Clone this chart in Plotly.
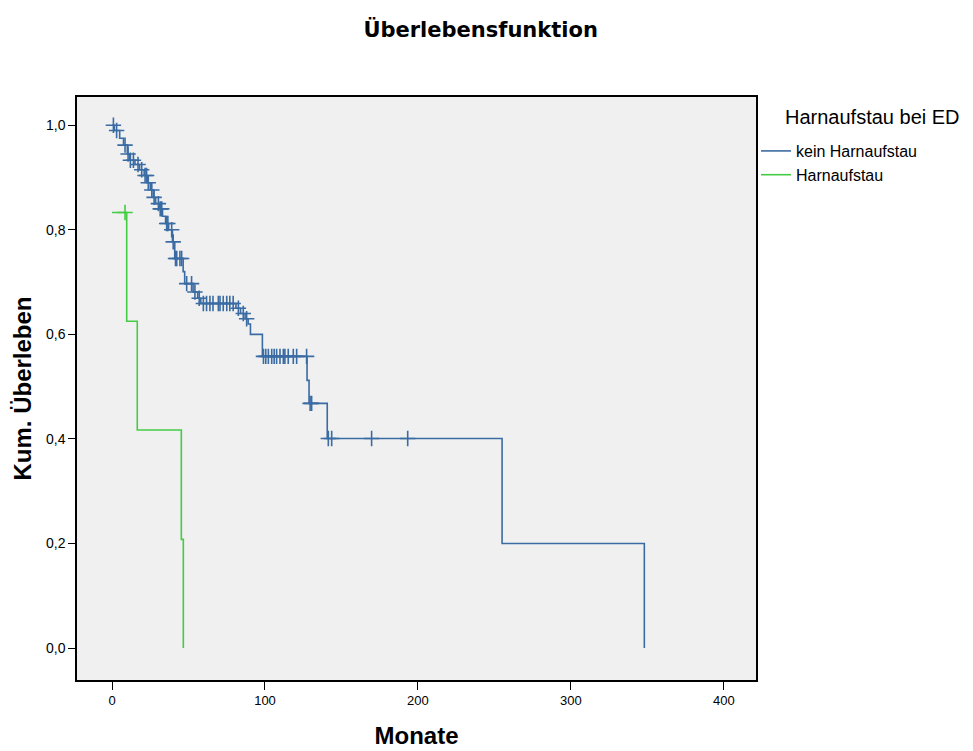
import numpy as np
import plotly.graph_objects as go

# ---- data ----
# kein Harnaufstau: event times (months) and survival after each event
blue_event_t = [0, 1.5, 5, 7.5, 10, 11.5, 15, 18, 21, 23, 25, 27, 28.5, 31, 33, 35, 37,
                39.5, 41, 46.5, 47.5, 53, 56, 58, 81, 84, 87, 89, 90.5, 98.3, 127.5,
                128.8, 140.7, 255, 348]
blue_event_s = [1.0, 0.99, 0.975, 0.962, 0.945, 0.933, 0.925, 0.915, 0.904, 0.89, 0.876,
                0.862, 0.85, 0.84, 0.826, 0.812, 0.80, 0.777, 0.745, 0.72, 0.697, 0.681,
                0.669, 0.659, 0.65, 0.64, 0.63, 0.62, 0.60, 0.558, 0.512, 0.468, 0.401,
                0.20, 0.0]
blue_censor_t = [0.9, 3, 8.5, 10.5, 12, 14, 17, 19.4, 21.6, 22.6, 23.7, 26, 27.5, 30.3,
                 31.5, 32.5, 35.7, 36.5, 39, 40, 41.5, 42.3, 44.4, 45.5, 48.8, 52, 54.2,
                 57, 59.7, 61.8, 64, 66, 69.5, 70.6, 72.7, 75, 77, 79.2, 82.6, 85.8, 88,
                 99, 100.5, 102.2, 104.4, 106, 107.6, 109.8, 112, 113, 115.2, 118.5,
                 120.7, 127.2, 129.5, 130.5, 141.4, 143.6, 169.7, 193.3]

# Harnaufstau
green_event_t = [0, 9.6, 16.5, 45.3, 46.6]
green_event_s = [0.833, 0.625, 0.417, 0.208, 0.0]
green_censor_t = [8.5]

x_ticks = [0, 100, 200, 300, 400]
y_ticks = [0.0, 0.2, 0.4, 0.6, 0.8, 1.0]

BLUE = "#3A6BA3"
GREEN = "#44CC44"


def surv_at(times, ev_t, ev_s):
    ev_t = np.asarray(ev_t)
    ev_s = np.asarray(ev_s)
    idx = np.searchsorted(ev_t, np.asarray(times), side="right") - 1
    return ev_s[np.clip(idx, 0, None)]


fig = go.Figure()

fig.add_trace(go.Scatter(x=blue_event_t, y=blue_event_s, mode="lines",
                         line=dict(color=BLUE, width=1.6, shape="hv"),
                         name="kein Harnaufstau", legendgroup="b"))
fig.add_trace(go.Scatter(x=blue_censor_t, y=surv_at(blue_censor_t, blue_event_t, blue_event_s),
                         mode="markers", showlegend=False, legendgroup="b",
                         marker=dict(symbol="cross-thin", size=11,
                                     line=dict(color=BLUE, width=1.6))))
fig.add_trace(go.Scatter(x=green_event_t, y=green_event_s, mode="lines",
                         line=dict(color=GREEN, width=1.6, shape="hv"),
                         name="Harnaufstau", legendgroup="g"))
fig.add_trace(go.Scatter(x=green_censor_t, y=surv_at(green_censor_t, green_event_t, green_event_s),
                         mode="markers", showlegend=False, legendgroup="g",
                         marker=dict(symbol="cross-thin", size=11,
                                     line=dict(color=GREEN, width=1.6))))

FONT = "Liberation Sans, Arial, sans-serif"
plot_w = 973 - 77 - 217
plot_h = 751 - 97 - 71

fig.update_layout(
    width=973, height=751,
    margin=dict(l=77, r=217, t=97, b=71, autoexpand=False),
    paper_bgcolor="white", plot_bgcolor="#F0F0F0",
    separators=",.",
    font=dict(family=FONT, size=13, color="black"),
    title=dict(text="<b>Überlebensfunktion</b>", x=0.494, xref="container", xanchor="center",
               y=0.96, yref="container", yanchor="middle",
               font=dict(size=21, family="DejaVu Sans, sans-serif")),
    showlegend=True,
    legend=dict(x=1.0, xanchor="left", y=1 - (134 - 97) / plot_h, yanchor="top",
                bgcolor="rgba(0,0,0,0)", borderwidth=0,
                font=dict(size=16, family=FONT), tracegroupgap=0, itemwidth=30),
    annotations=[dict(text="Harnaufstau bei ED", x=(783 - 77) / plot_w,
                      y=1 - (117 - 97) / plot_h, xref="paper", yref="paper",
                      showarrow=False, font=dict(size=20, family=FONT),
                      xanchor="left", yanchor="middle")],
    xaxis=dict(range=[-22.9, 421], tickvals=x_ticks, ticks="outside", ticklen=8,
               tickcolor="black", showgrid=False, zeroline=False, automargin=False,
               showline=True, linecolor="black", linewidth=1.5, mirror=True,
               tickfont=dict(size=13),
               title=dict(text="<b>Monate</b>", font=dict(size=24), standoff=20)),
    yaxis=dict(range=[-0.061, 1.054], tickvals=y_ticks, tickformat=".1f", ticks="outside",
               ticklen=7, tickcolor="black", showgrid=False, zeroline=False, automargin=False,
               showline=True, linecolor="black", linewidth=1.5, mirror=True,
               tickfont=dict(size=14),
               title=dict(text="<b>Kum. Überleben</b>", font=dict(size=24), standoff=8)),
)

fig.write_html("out.html")
